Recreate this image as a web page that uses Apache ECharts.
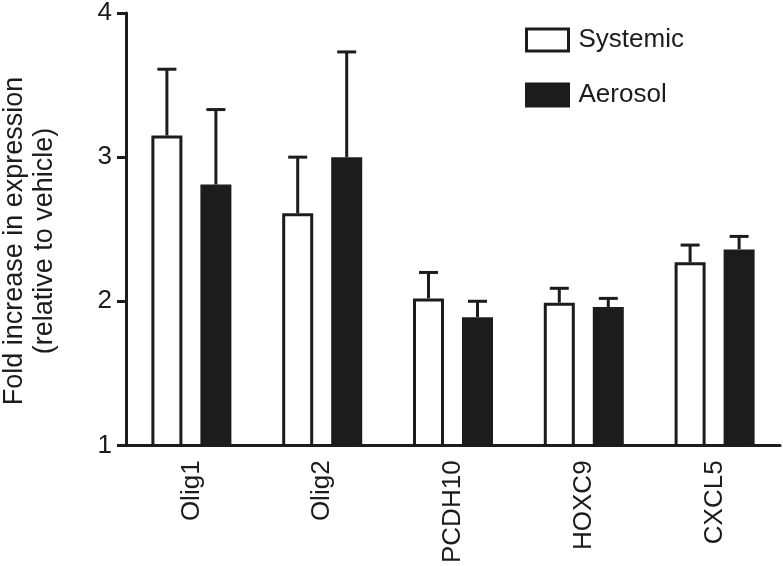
<!DOCTYPE html>
<html>
<head>
<meta charset="utf-8">
<script src="https://cdn.jsdelivr.net/npm/echarts@6/dist/echarts.min.js"></script>
<style>html,body{margin:0;padding:0;background:#fff}#c{width:783px;height:566px}</style>
</head>
<body>
<div id="c"></div>
<script>
const categories = ['Olig1', 'Olig2', 'PCDH10', 'HOXC9', 'CXCL5'];
const systemic = [3.15, 2.61, 2.02, 1.99, 2.27];
const systemicErrTop = [3.61, 3.00, 2.20, 2.09, 2.39];
const aerosol = [2.81, 3.00, 1.89, 1.96, 2.36];
const aerosolErrTop = [3.33, 3.73, 2.00, 2.02, 2.45];
const yTicks = [1, 2, 3, 4];

const FONT = '"Liberation Sans", Arial, Helvetica, sans-serif';
const INK = '#1c1c1c';
const BAR_W = 31, BAR_GAP = 18;
const OFF = (BAR_W + BAR_GAP) / 2;

function errSeries(name, vals, tops, dir) {
  return {
    type: 'custom',
    name: name + ' err',
    z: 1,
    data: vals.map((v, i) => [i, v, tops[i]]),
    renderItem: function (params, api) {
      const i = api.value(0);
      const base = api.coord([i, api.value(1)]);
      const top = api.coord([i, api.value(2)]);
      const x = base[0] + dir * OFF;
      const cap = 9.5;
      return {
        type: 'group',
        children: [
          { type: 'line', shape: { x1: x, y1: base[1], x2: x, y2: top[1] }, style: { stroke: INK, lineWidth: 3 } },
          { type: 'line', shape: { x1: x - cap, y1: top[1], x2: x + cap, y2: top[1] }, style: { stroke: INK, lineWidth: 3 } }
        ]
      };
    }
  };
}

const chart = echarts.init(document.getElementById('c'), null, { renderer: 'canvas' });
chart.setOption({
  animation: false,
  backgroundColor: '#fff',
  grid: { left: 126, right: 3, top: 11, bottom: 120, containLabel: false },
  legend: {
    data: ['Systemic', 'Aerosol'],
    orient: 'vertical',
    left: 525, top: 27, padding: 0,
    icon: 'rect',
    itemWidth: 42, itemHeight: 22, itemGap: 29,
    itemStyle: { borderColor: INK, borderWidth: 3 },
    textStyle: { fontFamily: FONT, fontSize: 26, color: INK, padding: [0, 0, 0, 5] }
  },
  xAxis: {
    type: 'category',
    data: categories,
    z: 5,
    axisLine: { lineStyle: { color: INK, width: 3 } },
    axisTick: { show: false },
    axisLabel: { rotate: 90, fontFamily: FONT, fontSize: 26, color: INK, margin: 15 }
  },
  yAxis: {
    type: 'value',
    min: 1, max: 4, interval: 1,
    z: 5,
    splitLine: { show: false },
    axisLine: { show: true, lineStyle: { color: INK, width: 3 } },
    axisTick: { show: true, length: 9, lineStyle: { color: INK, width: 3 } },
    axisLabel: { fontFamily: FONT, fontSize: 26, color: INK, margin: 14,
      formatter: v => yTicks.includes(v) ? String(v) : '' }
  },
  graphic: [{
    type: 'text',
    x: 30, y: 241,
    rotation: Math.PI / 2,
    style: {
      text: 'Fold increase in expression\n(relative to vehicle)',
      font: '27px ' + FONT,
      fill: INK,
      align: 'center',
      verticalAlign: 'middle',
      lineHeight: 30
    }
  }],
  series: [
    {
      name: 'Systemic', type: 'bar', data: systemic,
      barWidth: BAR_W, barGap: (BAR_GAP / BAR_W * 100) + '%',
      itemStyle: { color: '#ffffff', borderColor: INK, borderWidth: 3 },
      clip: true, z: 2
    },
    {
      name: 'Aerosol', type: 'bar', data: aerosol,
      barWidth: BAR_W,
      itemStyle: { color: INK, borderColor: INK, borderWidth: 3 },
      clip: true, z: 2
    },
    errSeries('Systemic', systemic, systemicErrTop, -1),
    errSeries('Aerosol', aerosol, aerosolErrTop, 1)
  ]
});
</script>
</body>
</html>
